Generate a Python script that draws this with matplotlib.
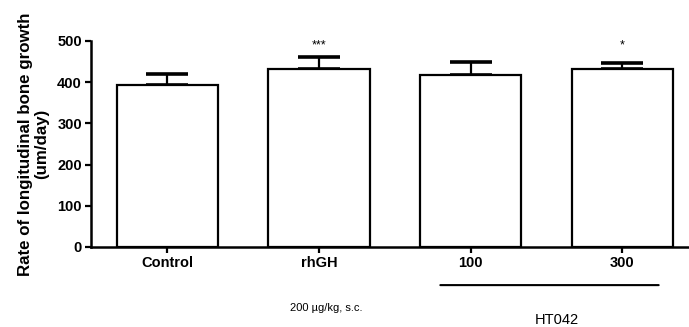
import matplotlib
matplotlib.use("Agg")
import matplotlib.pyplot as plt
import numpy as np

categories = ["Control", "rhGH", "100", "300"]
means = [394, 432, 417, 431]
errors = [25, 29, 31, 16]
stars = ["", "***", "", "*"]
yticks = [0, 100, 200, 300, 400, 500]

plt.rcParams['font.family'] = ['Liberation Sans', 'DejaVu Sans']

fig = plt.figure(figsize=(6.89, 3.27), dpi=100)
W, H = 689, 327
ax = fig.add_axes([91 / W, 80 / H, (689 - 91) / W, (247.3 - 41.3) / H])

x = np.arange(len(categories))
ax.bar(x, means, width=0.667, color="white", edgecolor="black", linewidth=1.6, zorder=2)
ax.errorbar(x, means, yerr=[np.zeros(len(errors)), errors], fmt="none",
            ecolor="black", elinewidth=1.6, capsize=15, capthick=2.6, zorder=1)

for xi, s in zip(x, stars):
    if s:
        ax.text(xi, 482, s, ha="center", va="baseline", fontsize=9)

ax.set_xlim(-0.504, 3.44)
ax.set_ylim(0, 500)
ax.set_yticks(yticks)
ax.set_xticks(x)
ax.set_xticklabels(categories, fontsize=10.5, fontweight="bold")
for lab in ax.get_yticklabels():
    lab.set_fontsize(10.5)
    lab.set_fontweight("bold")
ax.tick_params(axis="both", width=1.6, length=4.5, pad=2)
ax.spines["top"].set_visible(False)
ax.spines["right"].set_visible(False)
ax.spines["left"].set_linewidth(1.8)
ax.spines["bottom"].set_linewidth(1.8)
ax.set_ylabel("Rate of longitudinal bone growth\n(um/day)", fontsize=12.2,
              fontweight="bold", linespacing=1.1)
ax.yaxis.set_label_coords(-0.07, 0.5)

fig.text(326 / W, 1 - 308 / H, "200 µg/kg, s.c.", ha="center", va="center", fontsize=8)
ax.annotate("", xy=(3.24, -0.185), xytext=(1.80, -0.185), xycoords=("data", "axes fraction"),
            arrowprops=dict(arrowstyle="-", lw=1.5, color="black", shrinkA=0, shrinkB=0))
fig.text(557 / W, 1 - 320 / H, "HT042", ha="center", va="center", fontsize=10.5)

fig.savefig("out.png", dpi=100)
